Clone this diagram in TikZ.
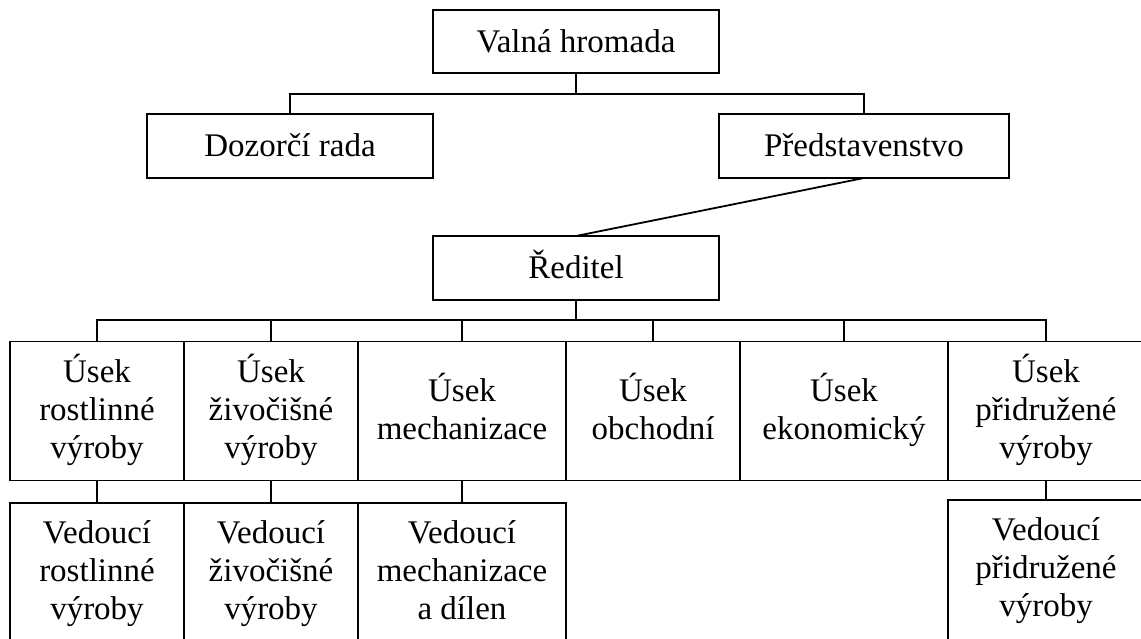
\documentclass[tikz,border=0pt]{standalone}
\usepackage{fontspec}
\setmainfont{Liberation Serif}
\begin{document}
\begin{tikzpicture}[x=1pt,y=-1pt,
    box/.style={draw,line width=1.8pt,inner sep=0pt,outer sep=0pt,align=center,
      font=\fontsize{33}{38}\selectfont,
      execute at begin node=\rule{0pt}{31pt},
      execute at end node=\rule[-9pt]{0pt}{9pt}},
    link/.style={line width=1.8pt}]
    % Frame
    \useasboundingbox (0,0) rectangle (1141,639);
    \clip (0,0) rectangle (1141,639);

    % Top levels
    \node[box,minimum width=286pt,minimum height=63pt] (valna) at (576,41.5) {Valná hromada};
    \node[box,minimum width=286pt,minimum height=64pt] (dozor) at (290,146) {Dozorčí rada};
    \node[box,minimum width=290pt,minimum height=64pt] (predst) at (864,146) {Představenstvo};
    \node[box,minimum width=286pt,minimum height=64pt] (reditel) at (576,268) {Ředitel};

    % Sections
    \node[box,minimum width=174pt,minimum height=139pt] (u1) at (97,411) {Úsek\\rostlinné\\výroby};
    \node[box,minimum width=174pt,minimum height=139pt] (u2) at (271,411) {Úsek\\živočišné\\výroby};
    \node[box,minimum width=208pt,minimum height=139pt] (u3) at (462,411) {Úsek\\mechanizace};
    \node[box,minimum width=174pt,minimum height=139pt] (u4) at (653,411) {Úsek\\obchodní};
    \node[box,minimum width=208pt,minimum height=139pt] (u5) at (844,411) {Úsek\\ekonomický};
    \node[box,minimum width=196pt,minimum height=139pt] (u6) at (1046,411) {Úsek\\přidružené\\výroby};

    % Heads
    \node[box,minimum width=174pt,minimum height=144pt] (v1) at (97,575) {Vedoucí\\rostlinné\\výroby};
    \node[box,minimum width=174pt,minimum height=144pt] (v2) at (271,575) {Vedoucí\\živočišné\\výroby};
    \node[box,minimum width=208pt,minimum height=144pt] (v3) at (462,575) {Vedoucí\\mechanizace\\a dílen};
    \node[box,minimum width=196pt,minimum height=144pt] (v6) at (1046,572) {Vedoucí\\přidružené\\výroby};

    % Connectors
    \coordinate (vbus) at (576,94);
    \draw[link] (valna.south) -- (vbus);
    \draw[link] (dozor.north) |- (vbus) -| (predst.north);
    \draw[link] (predst.south) -- (reditel.north);
    \coordinate (rbus) at (576,320);
    \draw[link] (reditel.south) -- (rbus);
    \draw[link] (u1.north) |- (rbus) -| (u6.north);
    \foreach \u in {u2,u3,u4,u5}
        \draw[link] (\u.north) -- (\u.north |- rbus);
    \foreach \u/\v in {u1/v1,u2/v2,u3/v3,u6/v6}
        \draw[link] (\u.south) -- (\v.north);
\end{tikzpicture}
\end{document}
